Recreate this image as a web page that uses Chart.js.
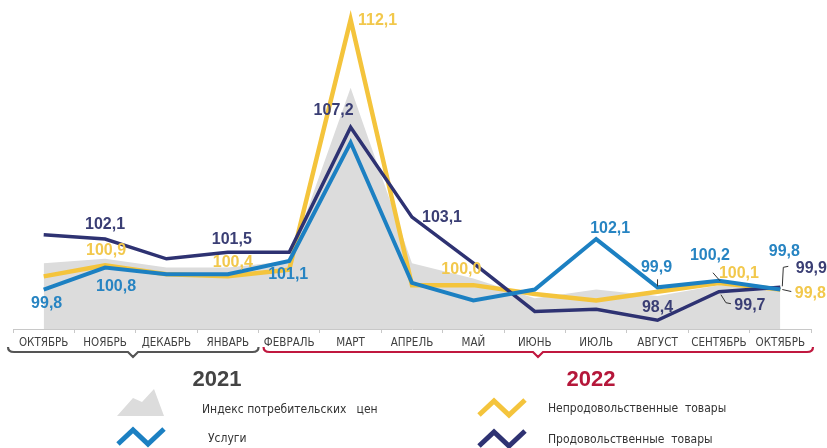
<!DOCTYPE html>
<html>
<head>
<meta charset="utf-8">
<script src="https://cdn.jsdelivr.net/npm/chart.js@4.4.0/dist/chart.umd.min.js"></script>
<style>
  html, body { margin: 0; padding: 0; background: #ffffff; }
  #wrap { width: 827px; height: 448px; }
</style>
</head>
<body>
<div id="wrap"><canvas id="priceChart" width="827" height="448"></canvas></div>
<script>
// months, Oct 2021 .. Oct 2022
const months = ["ОКТЯБРЬ", "НОЯБРЬ", "ДЕКАБРЬ", "ЯНВАРЬ", "ФЕВРАЛЬ", "МАРТ", "АПРЕЛЬ",
    "МАЙ", "ИЮНЬ", "ИЮЛЬ", "АВГУСТ", "СЕНТЯБРЬ", "ОКТЯБРЬ"];
const years = ["2021", "2022"];
const yearFirstMonth = [0, 4];

// % to previous month
const cpi      = [101.0, 101.2, 100.8, 100.8, 101.1, 109.0, 101.0, 100.3, 99.4, 99.8, 99.5, 100.0, 99.9];
const nonFood  = [100.4, 100.9, 100.5, 100.4, 100.7, 112.1, 100.0, 100.0, 99.6, 99.3, 99.7, 100.1, 99.8];
const services = [99.8, 100.8, 100.5, 100.5, 101.1, 106.5, 100.1, 99.3, 99.8, 102.1, 99.9, 100.2, 99.8];
const food     = [102.3, 102.1, 101.2, 101.5, 101.5, 107.2, 103.1, 101.0, 98.8, 98.9, 98.4, 99.7, 99.9];

const legendNames = ["Индекс потребительских   цен", "Услуги",
    "Непродовольственные  товары", "Продовольственные  товары"];

const NAVY = "#2e3272";
const YELLOW = "#f4c43c";
const BLUE = "#1c80c2";
const GREY = "#dcdcdc";
const narrow = '"Liberation Sans Narrow", "DejaVu Sans Condensed", "Liberation Sans", sans-serif';

// which points get a value label: [index, dx, dy]
const labelMarks = [
    { values: services, dataset: 0, color: "#2784c2", marks: [[0, 3, 14], [1, 11, 19], [4, -1, 14], [9, 14, -10], [10, -1, -20], [11, -9, -25], [12, 4, -38]] },
    { values: food, dataset: 1, color: "#3a3e74", marks: [[1, 0, -14], [3, 4, -13], [5, -17, -17], [6, 30, 0], [10, 0, -13], [11, 31, 14], [12, 31, -19]] },
    { values: nonFood, dataset: 2, color: "#f2c84c", marks: [[1, 1, -15], [3, 5, -14], [5, 27, 1], [7, -12, -16], [11, 20, -9], [12, 30, 4]] }
];

const leaders = [
    { dataset: 0, index: 10, color: "#333", pts: [[0, -1], [0, -8]] },
    { dataset: 0, index: 11, color: "#333", pts: [[1, 0], [-6, -8]] },
    { dataset: 1, index: 11, color: "#333", pts: [[2, 3], [7, 11], [12, 12]] },
    { dataset: 1, index: 12, color: "#333", pts: [[2, -1], [3, -20], [8, -21]] },
    { dataset: 2, index: 12, color: "#333", pts: [[2, 0], [11, 2]] }
];

function fmt(v) {
    return v.toFixed(1).replace(".", ",");
}

const decorations = {
    id: "decorations",
    afterDatasetsDraw: function (chart) {
        const ctx = chart.ctx;
        ctx.save();
        ctx.lineWidth = 1;
        leaders.forEach(function (l) {
            const p = chart.getDatasetMeta(l.dataset).data[l.index];
            ctx.strokeStyle = l.color;
            ctx.beginPath();
            l.pts.forEach(function (d, k) {
                if (k === 0) ctx.moveTo(p.x + d[0], p.y + d[1]);
                else ctx.lineTo(p.x + d[0], p.y + d[1]);
            });
            ctx.stroke();
        });

        ctx.font = 'bold 16px "Liberation Sans", Arial, sans-serif';
        ctx.textAlign = "center";
        ctx.textBaseline = "middle";
        labelMarks.forEach(function (s) {
            const meta = chart.getDatasetMeta(s.dataset);
            ctx.fillStyle = s.color;
            s.marks.forEach(function (m) {
                const p = meta.data[m[0]];
                ctx.fillText(fmt(s.values[m[0]]), p.x + m[1], p.y + m[2]);
            });
        });
        ctx.restore();
    },
    afterDraw: function (chart) {
        const ctx = chart.ctx;
        const xs = chart.scales.x;
        const step = xs.getPixelForTick(1) - xs.getPixelForTick(0);
        ctx.save();

        // year brackets
        const bColors = ["#555555", "#c0183f"];
        const yColors = ["#444444", "#b5173a"];
        const yearX = [217, 591];
        for (let k = 0; k < years.length; k++) {
            const first = yearFirstMonth[k];
            const last = k + 1 < years.length ? yearFirstMonth[k + 1] - 1 : months.length - 1;
            const x1 = xs.getPixelForTick(first) - step / 2 + (k === 0 ? -5 : 5);
            const x2 = xs.getPixelForTick(last) + step / 2 + (k === 0 ? 0 : 2);
            const xm = k === 0 ? 133 : 538;
            const y = 352;
            ctx.strokeStyle = bColors[k];
            ctx.lineWidth = 2.2;
            ctx.beginPath();
            ctx.moveTo(x1, y - 5);
            ctx.quadraticCurveTo(x1, y, x1 + 6, y);
            ctx.lineTo(xm - 5, y);
            ctx.lineTo(xm, y + 5);
            ctx.lineTo(xm + 5, y);
            ctx.lineTo(x2 - 6, y);
            ctx.quadraticCurveTo(x2, y, x2, y - 5);
            ctx.stroke();

            ctx.fillStyle = yColors[k];
            ctx.font = 'bold 22px "Liberation Sans", Arial, sans-serif';
            ctx.textAlign = "center";
            ctx.textBaseline = "middle";
            ctx.fillText(years[k], yearX[k], 380);
        }

        // legend
        ctx.fillStyle = GREY;
        ctx.beginPath();
        ctx.moveTo(117, 416);
        ctx.lineTo(133, 398);
        ctx.lineTo(142, 402);
        ctx.lineTo(154, 389);
        ctx.lineTo(164, 416);
        ctx.closePath();
        ctx.fill();

        function zig(x, y, color) {
            ctx.strokeStyle = color;
            ctx.lineWidth = 5;
            ctx.lineJoin = "miter";
            ctx.beginPath();
            ctx.moveTo(x, y);
            ctx.lineTo(x + 15, y - 14);
            ctx.lineTo(x + 30, y);
            ctx.lineTo(x + 46, y - 15);
            ctx.stroke();
        }
        zig(118, 444, BLUE);
        zig(479, 415, YELLOW);
        zig(479, 446, NAVY);

        ctx.fillStyle = "#333333";
        ctx.font = "12px " + narrow;
        ctx.textAlign = "left";
        ctx.textBaseline = "middle";
        ctx.fillText(legendNames[0], 202, 410);
        ctx.fillText(legendNames[1], 208, 439);
        ctx.fillText(legendNames[2], 548, 409);
        ctx.fillText(legendNames[3], 548, 440);
        ctx.restore();
    }
};

const ctx = document.getElementById("priceChart").getContext("2d");
new Chart(ctx, {
    type: "line",
    data: {
        labels: months,
        datasets: [
            { label: legendNames[1], data: services, borderColor: BLUE, borderWidth: 4, pointRadius: 0, tension: 0, fill: false },
            { label: legendNames[3], data: food, borderColor: NAVY, borderWidth: 3.5, pointRadius: 0, tension: 0, fill: false },
            { label: legendNames[2], data: nonFood, borderColor: YELLOW, borderWidth: 4.5, pointRadius: 0, tension: 0, fill: false },
            { label: legendNames[0], data: cpi, borderWidth: 0, borderColor: GREY, backgroundColor: GREY, pointRadius: 0, tension: 0, fill: "start" }
        ]
    },
    options: {
        responsive: false,
        animation: false,
        devicePixelRatio: 1,
        layout: { padding: { top: 0, right: 16, bottom: 0, left: 13 } },
        plugins: {
            legend: { display: false },
            tooltip: { enabled: false }
        },
        scales: {
            y: { display: false, min: 98, max: 113 },
            x: {
                offset: true,
                afterFit: function (scale) { scale.height = 119; },
                grid: {
                    offset: true,
                    drawOnChartArea: false,
                    drawTicks: true,
                    tickLength: 4,
                    color: "#c8c8c8"
                },
                border: { display: true, color: "#c8c8c8", width: 1 },
                ticks: {
                    autoSkip: false,
                    maxRotation: 0,
                    padding: 3,
                    color: "#404040",
                    font: { family: narrow, size: 11.5 }
                }
            }
        }
    },
    plugins: [decorations]
});
</script>
</body>
</html>
